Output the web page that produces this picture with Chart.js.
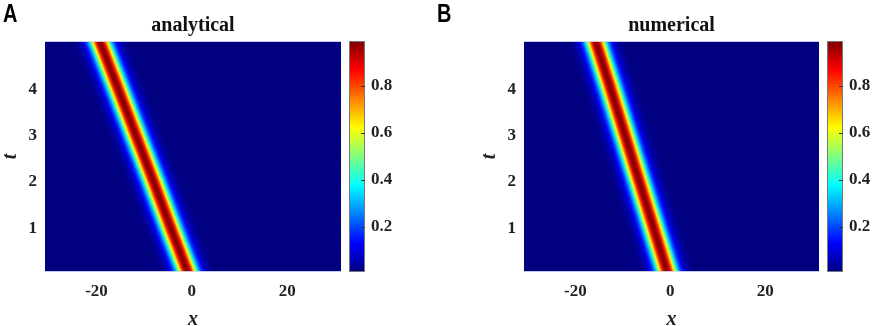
<!DOCTYPE html>
<html>
<head>
<meta charset="utf-8">
<script src="https://cdn.jsdelivr.net/npm/chart.js@4.4.1/dist/chart.umd.min.js"></script>
<style>
  body { margin: 0; background: #fff; width: 872px; height: 326px; overflow: hidden; position: relative; }
  .panel { position: absolute; top: 0; width: 436px; height: 326px; }
  .tag { position: absolute; top: 1px; font: bold 25px "Liberation Sans", Arial, sans-serif; line-height: 1; transform: scaleX(0.8); transform-origin: left top; color: #000; }
</style>
</head>
<body>
<div class="panel" style="left:0"><canvas id="chartA" width="436" height="326"></canvas></div>
<div class="panel" style="left:436px"><canvas id="chartB" width="436" height="326"></canvas></div>
<div class="tag" style="left:3px">A</div>
<div class="tag" style="left:437px">B</div>
<script>
// axis ticks
const xTicks = [-20, 0, 20];
const tTicks = [1, 2, 3, 4];
const cbTicks = [0.2, 0.4, 0.6, 0.8];

const tRows = [0, 1, 2, 3, 4, 5.1];
const centreA = [-0.7, -4.4, -8.0, -11.7, -15.4, -19.5];   // analytical
const centreB = [-0.5, -3.5, -6.5, -9.5, -12.5, -15.9];    // numerical

// value across the stripe, by horizontal offset from its centre
const profileOffset = [-6, -5.5, -5, -4.5, -4, -3.5, -3, -2.5, -2, -1.5, -1, -0.5, 0,
                       0.5, 1, 1.5, 2, 2.5, 3, 3.5, 4, 4.5, 5, 5.5, 6];
const profileValue = [0.01, 0.015, 0.025, 0.04, 0.07, 0.11, 0.18, 0.29, 0.44, 0.63, 0.82, 0.95, 0.99,
                      0.95, 0.82, 0.63, 0.44, 0.29, 0.18, 0.11, 0.07, 0.04, 0.025, 0.015, 0.01];

// colour range of the colorbar
const cMin = 0.006, cMax = 0.991;

function jet(v) {
    let n = (v - cMin) / (cMax - cMin);
    n = Math.max(0, Math.min(1, n));
    const c = k => Math.round(255 * Math.max(0, Math.min(1, 1.5 - Math.abs(4 * n - k))));
    return `rgb(${c(3)},${c(2)},${c(1)})`;
}

const serif = "'Liberation Serif', 'Times New Roman', serif";
const tickFont = { family: serif, size: 17, weight: 'bold' };
const labelFont = { family: serif, size: 20, weight: 'bold', style: 'italic', lineHeight: 1 };

const heatmap = {
    id: 'heatmap',
    beforeDatasetsDraw(chart) {
        const { ctx, chartArea: a, scales: { x, y } } = chart;
        const pts = chart.data.datasets[0].data;
        const lo = profileOffset[0], hi = profileOffset[profileOffset.length - 1];
        const L = Math.round(a.left), T = Math.round(a.top), R = Math.round(a.right), B = Math.round(a.bottom);
        ctx.save();
        ctx.beginPath();
        ctx.rect(L, T, R - L, B - T);
        ctx.clip();
        ctx.fillStyle = jet(cMin);
        ctx.fillRect(L, T, R - L, B - T);
        for (let i = 0; i < pts.length - 1; i++) {
            const p = pts[i], q = pts[i + 1];
            const y0 = y.getPixelForValue(p.y), y1 = y.getPixelForValue(q.y);
            const l0 = x.getPixelForValue(p.x + lo), r0 = x.getPixelForValue(p.x + hi);
            const l1 = x.getPixelForValue(q.x + lo), r1 = x.getPixelForValue(q.x + hi);
            const sx = (l1 + r1) / 2 - (l0 + r0) / 2, sy = y1 - y0;
            const len = Math.hypot(sx, sy);
            const ux = sx / len, uy = sy / len;
            const k = (r0 - l0) * uy;
            const g = ctx.createLinearGradient(l0, y0, l0 + uy * k, y0 - ux * k);
            profileOffset.forEach((o, j) => g.addColorStop((o - lo) / (hi - lo), jet(profileValue[j])));
            const e = 0.8;
            ctx.fillStyle = g;
            ctx.beginPath();
            ctx.moveTo(l0 - ux * e, y0 - uy * e);
            ctx.lineTo(r0 - ux * e, y0 - uy * e);
            ctx.lineTo(r1 + ux * e, y1 + uy * e);
            ctx.lineTo(l1 + ux * e, y1 + uy * e);
            ctx.closePath();
            ctx.fill();
        }
        // thin light frame like the original axes box
        ctx.strokeStyle = 'rgba(220,220,240,0.9)';
        ctx.lineWidth = 1;
        ctx.beginPath();
        ctx.moveTo(L, T + 0.5); ctx.lineTo(R, T + 0.5);
        ctx.moveTo(L, B - 0.5); ctx.lineTo(R, B - 0.5);
        ctx.stroke();
        ctx.restore();
    }
};

const colorbar = {
    id: 'colorbar',
    afterDraw(chart) {
        const { ctx, chartArea: a, scales: { cb } } = chart;
        const left = Math.round(a.right) + 8, w = 16;
        const top = Math.round(cb.getPixelForValue(cMax)), bottom = Math.round(cb.getPixelForValue(cMin));
        const g = ctx.createLinearGradient(0, bottom, 0, top);
        [0, 0.125, 0.375, 0.625, 0.875, 1].forEach(s => g.addColorStop(s, jet(cMin + s * (cMax - cMin))));
        ctx.save();
        ctx.fillStyle = g;
        ctx.fillRect(left, top, w, bottom - top);
        ctx.strokeStyle = '#777';
        ctx.lineWidth = 1;
        ctx.strokeRect(left + 0.5, top + 0.5, w - 1, bottom - top - 1);
        ctx.strokeStyle = '#333';
        cbTicks.forEach(v => {
            const yy = Math.round(cb.getPixelForValue(v)) + 0.5;
            ctx.beginPath();
            ctx.moveTo(left + w - 4, yy);
            ctx.lineTo(left + w, yy);
            ctx.stroke();
        });
        ctx.restore();
    }
};

function makeChart(id, title, centres, padLeft, cbWidth) {
    new Chart(document.getElementById(id), {
        type: 'scatter',
        data: {
            datasets: [{
                data: tRows.map((t, i) => ({ x: centres[i], y: t })),
                pointRadius: 0,
                showLine: false
            }]
        },
        options: {
            responsive: false,
            animation: false,
            layout: { padding: { left: padLeft, right: 0, top: 0, bottom: 0 } },
            plugins: {
                legend: { display: false },
                tooltip: { enabled: false },
                title: {
                    display: true,
                    text: title,
                    fullSize: false,
                    color: '#111',
                    font: { family: serif, size: 20, weight: 'bold', lineHeight: 1.2 },
                    padding: { top: 14, bottom: 3 }
                }
            },
            scales: {
                x: {
                    type: 'linear',
                    min: -30.8,
                    max: 31.3,
                    grid: { display: false, drawTicks: false },
                    border: { display: false },
                    afterBuildTicks: s => { s.ticks = xTicks.map(v => ({ value: v })); },
                    afterFit: s => { s.height = 54; },
                    ticks: { color: '#222', font: tickFont, padding: 9, maxRotation: 0, autoSkip: false },
                    title: { display: true, text: 'x', color: '#222', font: labelFont, padding: { top: 0, bottom: -4 } }
                },
                y: {
                    type: 'linear',
                    position: 'left',
                    min: 0.05,
                    max: 5.05,
                    grid: { display: false, drawTicks: false },
                    border: { display: false },
                    afterBuildTicks: s => { s.ticks = tTicks.map(v => ({ value: v })); },
                    afterFit: s => { s.width = 45; },
                    ticks: { color: '#222', font: tickFont, padding: 8, autoSkip: false },
                    title: { display: true, text: 't', color: '#222', font: labelFont, padding: 1 }
                },
                cb: {
                    type: 'linear',
                    position: 'right',
                    display: true,
                    min: cMin,
                    max: cMax,
                    grid: { display: false, drawTicks: false },
                    border: { display: false },
                    afterBuildTicks: s => { s.ticks = cbTicks.map(v => ({ value: v })); },
                    afterFit: s => { s.width = cbWidth; },
                    ticks: { color: '#222', font: tickFont, padding: 30, autoSkip: false, callback: v => v.toFixed(1) }
                }
            }
        },
        plugins: [heatmap, colorbar]
    });
}

makeChart('chartA', 'analytical', centreA, 0, 95);
makeChart('chartB', 'numerical', centreB, 43, 53);
</script>
</body>
</html>
